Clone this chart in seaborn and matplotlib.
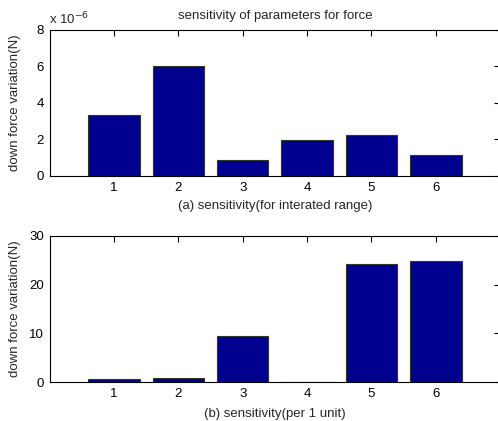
import numpy as np
import pandas as pd
import matplotlib
matplotlib.use('Agg')
import matplotlib.pyplot as plt
import seaborn as sns
from matplotlib.ticker import FuncFormatter

params = [1, 2, 3, 4, 5, 6]
sens_range = [3.35e-6, 6.0e-6, 0.86e-6, 1.96e-6, 2.25e-6, 1.15e-6]
sens_unit = [0.62, 0.85, 9.4, 0.05, 24.3, 24.75]

sns.set_style('white')
plt.rcParams['font.family'] = ['Liberation Sans', 'DejaVu Sans']
fs = 9.5
plt.rcParams['font.size'] = fs

bar_color = '#00008F'

fig = plt.figure(figsize=(4.98, 4.21), dpi=100)
ax1 = fig.add_axes([0.0994, 0.582, 0.905, 0.347])
ax2 = fig.add_axes([0.0994, 0.0926, 0.905, 0.347])

df_a = pd.DataFrame({'param': params, 'value': sens_range})
df_b = pd.DataFrame({'param': params, 'value': sens_unit})

for ax, df in [(ax1, df_a), (ax2, df_b)]:
    sns.barplot(data=df, x='param', y='value', native_scale=True, width=0.8,
                color=bar_color, edgecolor='#333333', linewidth=0.8,
                saturation=1, ax=ax)
    ax.set_xlim(0, 7)
    ax.set_xticks(params)
    ax.tick_params(direction='in', length=4, width=0.8, top=True, right=True,
                   labelsize=fs, colors='black', pad=4)
    for s in ax.spines.values():
        s.set_color('black')
        s.set_linewidth(0.8)
    ax.set_ylabel('down force variation(N)', fontsize=fs)
    ax.yaxis.set_label_coords(-0.063, 0.5)

ax1.set_ylim(0, 8e-6)
ax1.set_yticks([0, 2e-6, 4e-6, 6e-6, 8e-6])
ax1.yaxis.set_major_formatter(FuncFormatter(lambda v, p: f'{v * 1e6:.0f}'))
ax1.set_xlabel('(a) sensitivity(for interated range)', fontsize=fs, labelpad=5)
ax1.set_title('sensitivity of parameters for force', fontsize=fs, pad=8)
fig.text(0.0974, 0.9345, 'x 10$^{-6}$', fontsize=fs, ha='left', va='bottom')

ax2.set_ylim(0, 30)
ax2.set_yticks([0, 10, 20, 30])
ax2.set_xlabel('(b) sensitivity(per 1 unit)', fontsize=fs, labelpad=6)

fig.savefig('out.png', dpi=100)
